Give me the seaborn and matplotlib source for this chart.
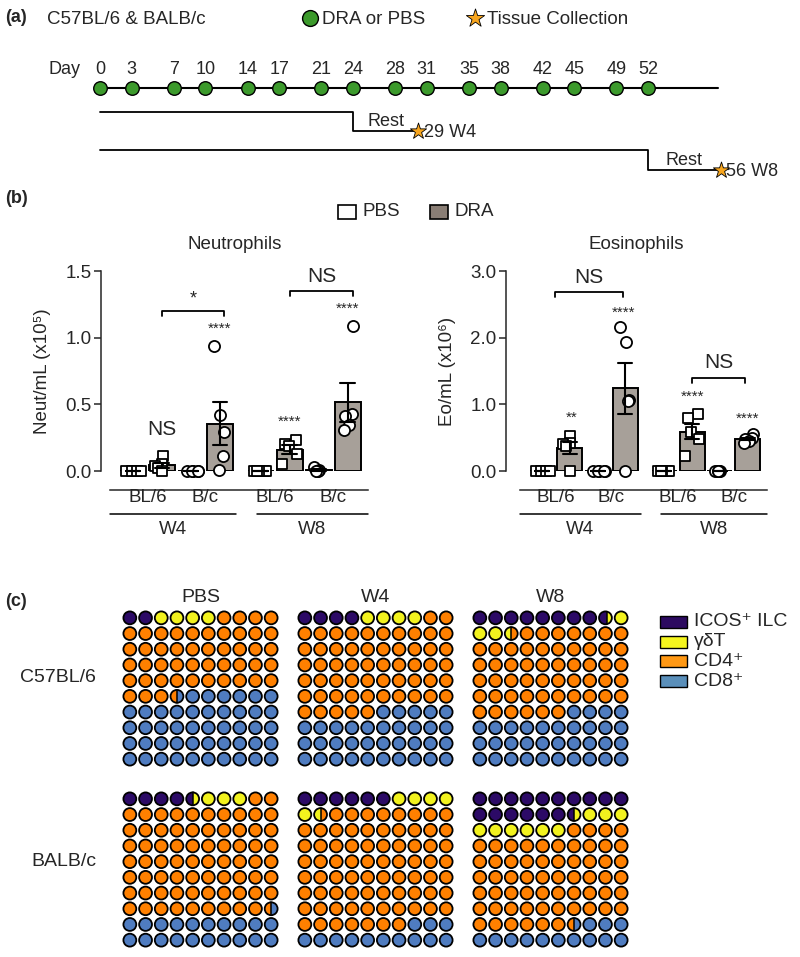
import numpy as np
import pandas as pd
import matplotlib
matplotlib.use("Agg")
import matplotlib.pyplot as plt
import seaborn as sns
from matplotlib.patches import Circle, Rectangle
from matplotlib.transforms import blended_transform_factory

# ---------------- data ----------------
# panel (a) timeline
injection_days = [0, 3, 7, 10, 14, 17, 21, 24, 28, 31, 35, 38, 42, 45, 49, 52]
rest_start_days = [24, 52]
collect_days = [29, 56]
collect_labels = ["W4", "W8"]
collect_marks = [30.2, 58.9]      # where the stars sit on the drawn time axis
timeline_end = 58.6

# panel (b)
bar_pos = [0, 1, 2, 3, 4.4, 5.4, 6.4, 7.4]
week = ["W4"] * 4 + ["W8"] * 4
strain = ["BL/6", "BL/6", "B/c", "B/c"] * 2
treatment = ["PBS", "DRA"] * 4
neut_values = [
    [0.0, 0.0, 0.0, 0.0, 0.0],
    [0.11, 0.05, 0.04, 0.02, 0.0],
    [0.0, 0.0, 0.0, 0.0, 0.0],
    [0.94, 0.42, 0.29, 0.11, 0.01],
    [0.0, 0.0, 0.0, 0.0, 0.0],
    [0.23, 0.20, 0.19, 0.13, 0.05],
    [0.03, 0.01, 0.0, 0.0, 0.0],
    [1.09, 0.425, 0.41, 0.345, 0.31],
]
eos_values = [
    [0.0, 0.0, 0.0, 0.0, 0.0],
    [0.52, 0.42, 0.40, 0.38, 0.0],
    [0.0, 0.0, 0.0, 0.0, 0.0],
    [2.16, 1.93, 1.07, 1.05, 0.0],
    [0.0, 0.0, 0.0, 0.0, 0.0],
    [0.86, 0.80, 0.58, 0.48, 0.22],
    [0.0, 0.0, 0.0, 0.0, 0.0],
    [0.55, 0.50, 0.48, 0.45, 0.42],
]
neut_ticks = [0.0, 0.5, 1.0, 1.5]
eos_ticks = [0.0, 1.0, 2.0, 3.0]
# significance: (position, value, label)
neut_stars = [(1, 0.31, "NS", 15), (3, 1.07, "****", 11), (5.4, 0.37, "****", 11), (7.4, 1.22, "****", 11)]
neut_brackets = [(1.0, 3.15, 1.20, "*"), (5.4, 7.6, 1.35, "NS")]
eos_stars = [(1.08, 0.80, "**", 11), (2.95, 2.37, "****", 11), (5.43, 1.12, "****", 11), (7.4, 0.78, "****", 11)]
eos_brackets = [(0.45, 2.9, 2.68, "NS"), (5.4, 7.3, 1.40, "NS")]

# panel (c)
cell_types = ["ICOS\u207a ILC", "\u03b3\u03b4T", "CD4\u207a", "CD8\u207a"]
grid_titles = ["PBS", "W4", "W8"]
grid_strains = ["C57BL/6", "BALB/c"]
c57_pbs = [2, 4, 47.5, 46.5]
c57_w4 = [4, 4, 57, 35]
c57_w8 = [8.6, 3.9, 53.5, 34]
balb_pbs = [4.5, 3.5, 71.5, 20.5]
balb_w4 = [6, 5.5, 75.5, 13]
balb_w8 = [16.5, 9.5, 60.5, 13.5]
waffles = [[c57_pbs, c57_w4, c57_w8], [balb_pbs, balb_w4, balb_w8]]

# ---------------- style ----------------
sns.set_theme(style="white")
plt.rcParams["font.family"] = ["Liberation Sans", "DejaVu Sans"]
plt.rcParams["axes.linewidth"] = 1.1

GREEN = "#3c9a2c"
STAR = "#f7a51e"
GRAY = "#aaa096"
CELL_COLORS = ["#2c0a66", "#f2f21e", "#ff8000", "#4f7cc0"]
LEGEND_COLORS = ["#2c0a60", "#f5f51e", "#ff9814", "#5a8fba"]

W, H = 800, 957
fig = plt.figure(figsize=(8, 9.57), dpi=100)


def ax_px(x0, y0, x1, y1):
    return fig.add_axes([x0 / W, 1 - y1 / H, (x1 - x0) / W, (y1 - y0) / H])


def ftext(x, y, s, **kw):
    fig.text(x / W, 1 - y / H, s, **kw)


# ---------------- panel (a) ----------------
X0, K = 100, 10.54
ax_a = ax_px(0, 0, W, 195)
ax_a.set_xlim(-X0 / K, (W - X0) / K)
ax_a.set_ylim(195, 0)
ax_a.axis("off")

ax_a.plot([0, timeline_end], [88, 88], color="black", lw=1.5, zorder=1)
sns.scatterplot(x=injection_days, y=[88] * len(injection_days), s=95, color=GREEN,
                edgecolor="black", linewidth=1.0, zorder=3, ax=ax_a, legend=False)
for d in injection_days:
    ax_a.text(d, 70, str(d), ha="center", va="center", fontsize=13)
ax_a.text((80 - X0) / K, 70, "Day", ha="right", va="center", fontsize=13)

y_tops = [112, 150]
y_bots = [131, 170]
for rs, cm, cd, lab, yt, yb in zip(rest_start_days, collect_marks, collect_days,
                                   collect_labels, y_tops, y_bots):
    ax_a.plot([0, rs, rs, cm], [yt, yt, yb, yb], color="black", lw=1.3)
    ax_a.text((rs + cm) / 2, yb - 10, "Rest", ha="center", va="center", fontsize=13)
    ax_a.scatter([cm], [yb], marker="*", s=150, color=STAR, edgecolor="black",
                 linewidth=0.6, zorder=4)
    ax_a.text(cm + 0.5, yb + 1, f"{cd} {lab}", ha="left", va="center", fontsize=13)

ftext(5, 18, "(a)", fontsize=13, fontweight="bold", va="center")
ftext(47, 19, "C57BL/6 & BALB/c", fontsize=13.5, va="center")
ax_a.scatter([(310 - X0) / K], [18], s=130, color=GREEN, edgecolor="black", linewidth=1.0)
ftext(322, 19, "DRA or PBS", fontsize=13.5, va="center")
ax_a.scatter([(475 - X0) / K], [18], marker="*", s=190, color=STAR, edgecolor="black", linewidth=0.6)
ftext(487, 19, "Tissue Collection", fontsize=13.5, va="center")

# ---------------- panel (b) ----------------
def long_df(values):
    rows = []
    for p, w_, st, tr, vals in zip(bar_pos, week, strain, treatment, values):
        for v in vals:
            rows.append(dict(pos=p, week=w_, strain=st, treatment=tr, val=v))
    return pd.DataFrame(rows)


def bar_panel(ax, values, ymax, ticks, ylabel, title, stars, brackets, xlim):
    df = long_df(values)
    sns.barplot(data=df, x="pos", y="val", hue="treatment", hue_order=["PBS", "DRA"],
                palette={"PBS": "white", "DRA": GRAY}, native_scale=True, dodge=False,
                errorbar="se", capsize=0.5, err_kws=dict(color="black", linewidth=1.5),
                edgecolor="black", linewidth=1.4, width=0.9, legend=False, ax=ax)
    np.random.seed(7)
    sns.stripplot(data=df[df.strain == "BL/6"], x="pos", y="val", native_scale=True,
                  jitter=0.28, marker="s", size=7.5, color="white", edgecolor="black",
                  linewidth=1.3, ax=ax)
    sns.stripplot(data=df[df.strain == "B/c"], x="pos", y="val", native_scale=True,
                  jitter=0.28, marker="o", size=8, color="white", edgecolor="black",
                  linewidth=1.3, ax=ax)
    for p in ax.patches:
        p.set_zorder(1)
    for c in ax.collections:
        c.set_zorder(2)
        c.set_clip_on(False)
    for ln in ax.lines:
        ln.set_zorder(3)
        ln.set_clip_on(False)

    ax.set_xlim(*xlim)
    ax.set_ylim(0, ymax)
    ax.set_yticks(ticks)
    ax.set_yticklabels([f"{t:.1f}" for t in ticks], fontsize=13.5)
    ax.tick_params(axis="y", length=5, width=1.1, direction="out", pad=2, left=True)
    ax.set_xticks([])
    ax.set_xlabel("")
    ax.set_ylabel(ylabel, fontsize=13.5)
    axw = ax.get_position().width * W
    ax.yaxis.set_label_coords(-50 / axw, 0.5)
    for s in ["top", "right"]:
        ax.spines[s].set_visible(False)
    ax.spines["bottom"].set_position(("outward", 14))
    ax.spines["bottom"].set_bounds(-0.8, xlim[1])
    ax.set_title(title, fontsize=13.5, pad=16)

    tr = blended_transform_factory(ax.transData, ax.transAxes)
    axh = ax.get_position().height * H
    for st_label, p in zip(["BL/6", "B/c", "BL/6", "B/c"], [0.5, 2.5, 4.9, 6.9]):
        ax.text(p, -27 / axh, st_label, transform=tr, ha="center", va="center", fontsize=13.5)
    for wk, (a, b) in zip(["W4", "W8"], [(-0.8, 3.55), (4.27, xlim[1])]):
        ax.plot([a, b], [-43 / axh] * 2, transform=tr, color="black", lw=1.1, clip_on=False)
        ax.text((a + b) / 2, -59 / axh, wk, transform=tr, ha="center", va="center", fontsize=13.5)

    for p, v, lab, fs in stars:
        ax.text(p, v, lab, ha="center", va="center", fontsize=fs, clip_on=False)
    for a, b, yv, lab in brackets:
        h = ymax * 0.025
        ax.plot([a, a, b, b], [yv - h, yv, yv, yv - h], color="black", lw=1.3, clip_on=False)
        ax.text((a + b) / 2, yv + ymax * (0.06 if lab == "*" else 0.075), lab,
                ha="center", va="center", fontsize=15 if lab == "NS" else 13, clip_on=False)


ax_n = ax_px(101, 271, 368, 471)
bar_panel(ax_n, neut_values, 1.5, neut_ticks, "Neut/mL (x10\u2075)", "Neutrophils",
          neut_stars, neut_brackets, (-1.1, 8.1))
ax_e = ax_px(506, 271, 767, 471)
bar_panel(ax_e, eos_values, 3.0, eos_ticks, "Eo/mL (x10\u2076)", "Eosinophils",
          eos_stars, eos_brackets, (-1.3, 8.1))

ftext(5, 199, "(b)", fontsize=13, fontweight="bold", va="center")
fig.add_artist(Rectangle(((338) / W, 1 - 219 / H), 18 / W, 14 / H, transform=fig.transFigure,
                         facecolor="white", edgecolor="black", lw=1.2))
ftext(362, 212, "PBS", fontsize=13.5, va="center")
fig.add_artist(Rectangle(((430) / W, 1 - 219 / H), 18 / W, 14 / H, transform=fig.transFigure,
                         facecolor="#8a7e75", edgecolor="black", lw=1.2))
ftext(455, 212, "DRA", fontsize=13.5, va="center")

# ---------------- panel (c) ----------------
R = 0.41
grid_left = [122, 297, 472]
grid_top = [610, 791]


def draw_waffle(ax, counts):
    bounds = np.concatenate([[0], np.cumsum(counts)])
    for k in range(100):
        r, c = divmod(k, 10)
        parts = []
        for i in range(4):
            lo, hi = max(bounds[i], k), min(bounds[i + 1], k + 1)
            if hi - lo > 1e-9:
                parts.append((i, hi - lo))
        base = Circle((c, r), R, facecolor=CELL_COLORS[parts[-1][0]], edgecolor="none", zorder=1)
        ax.add_patch(base)
        if len(parts) > 1:
            f = parts[0][1]
            xs = c - R + 2 * R * f
            rect = Rectangle((c - R, r - R), 2 * R * f, 2 * R,
                             facecolor=CELL_COLORS[parts[0][0]], edgecolor="none", zorder=2)
            ax.add_patch(rect)
            rect.set_clip_path(base)
            dy = np.sqrt(max(R ** 2 - (xs - c) ** 2, 0))
            ax.plot([xs, xs], [r - dy, r + dy], color="black", lw=1.1, zorder=3)
        ax.add_patch(Circle((c, r), R, facecolor="none", edgecolor="black", lw=1.3, zorder=4))


for gi, (strain_name, row_counts) in enumerate(zip(grid_strains, waffles)):
    for gj, counts in enumerate(row_counts):
        x0, y0 = grid_left[gj], grid_top[gi]
        ax = ax_px(x0, y0, x0 + 157, y0 + 157)
        ax.set_xlim(-0.5, 9.5)
        ax.set_ylim(9.5, -0.5)
        ax.set_aspect("equal")
        ax.axis("off")
        draw_waffle(ax, counts)
        if gi == 0:
            ftext(x0 + 78.5, 597, grid_titles[gj], ha="center", va="center", fontsize=14)
    ftext(96, [678, 862][gi], strain_name, ha="right", va="center", fontsize=14)

ftext(5, 601, "(c)", fontsize=13, fontweight="bold", va="center")
for i, (lab, col) in enumerate(zip(cell_types, LEGEND_COLORS)):
    yc = 622 + i * 19.7
    fig.add_artist(Rectangle((660 / W, 1 - (yc + 6) / H), 27 / W, 12 / H,
                             transform=fig.transFigure, facecolor=col, edgecolor="black", lw=1.0))
    ftext(694, yc, lab, ha="left", va="center", fontsize=14)

fig.savefig("out.png", dpi=100)
